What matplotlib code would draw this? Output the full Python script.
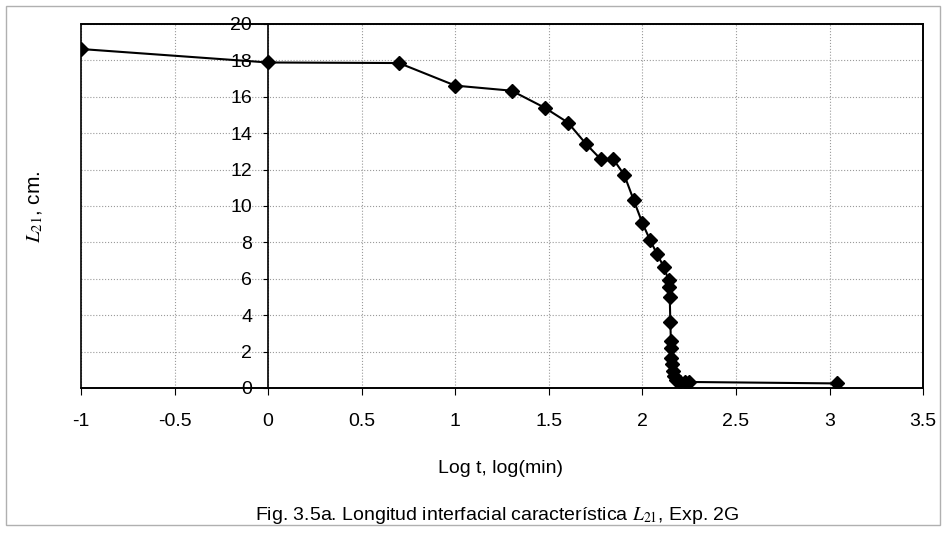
import matplotlib
matplotlib.use('Agg')
import matplotlib.pyplot as plt
from matplotlib.patches import Rectangle

# Log of time (min) and characteristic interfacial length L21 (cm)
log_t = [-1, 0, 0.699, 1.0, 1.301, 1.477, 1.602, 1.699, 1.778, 1.845,
         1.903, 1.954, 2.0, 2.041, 2.079, 2.114, 2.14, 2.143, 2.146, 2.149,
         2.152, 2.155, 2.155, 2.158, 2.162, 2.17, 2.18, 2.2, 2.225, 2.25,
         3.04]
L21 = [18.62, 17.88, 17.85, 16.61, 16.33, 15.4, 14.58, 13.4, 12.56, 12.56,
       11.7, 10.3, 9.05, 8.12, 7.34, 6.65, 5.91, 5.53, 4.98, 3.6,
       2.6, 2.17, 1.67, 1.34, 0.95, 0.68, 0.45, 0.35, 0.33, 0.33,
       0.25]

x_ticks = [-1, -0.5, 0, 0.5, 1, 1.5, 2, 2.5, 3, 3.5]
x_tick_labels = ['-1', '-0.5', '0', '0.5', '1', '1.5', '2', '2.5', '3', '3.5']
y_ticks = [0, 2, 4, 6, 8, 10, 12, 14, 16, 18, 20]

plt.rcParams['font.family'] = 'Liberation Sans'
plt.rcParams['mathtext.fontset'] = 'stix'

fig = plt.figure(figsize=(9.42, 5.37), dpi=100)
ax = fig.add_axes([0.086, 0.2775, 0.894, 0.678])

ax.set_xlim(-1, 3.5)
ax.set_ylim(0, 20)

# grid (dotted gray)
ax.set_xticks(x_ticks)
ax.set_xticklabels(x_tick_labels)
ax.set_yticks(y_ticks)
ax.grid(True, linestyle=':', color='#9a9a9a', linewidth=0.8)
ax.set_axisbelow(True)

ax.plot(log_t, L21, color='black', linewidth=1.5, marker='D', markersize=7.5,
        markerfacecolor='black', markeredgecolor='black', zorder=3)

# y axis drawn at x = 0, box round the plot area
ax.spines['left'].set_position(('data', 0))
for side in ['top', 'right', 'bottom', 'left']:
    ax.spines[side].set_color('black')
    ax.spines[side].set_linewidth(1.2)
ax.add_patch(Rectangle((0, 0), 1, 1, transform=ax.transAxes, fill=False,
                       edgecolor='black', linewidth=1.2, clip_on=False, zorder=4))

ax.tick_params(axis='x', direction='out', length=5, pad=13, labelsize=14, color='black')
ax.tick_params(axis='y', direction='out', length=3.5, pad=8, labelsize=14, color='black')

fig.text(0.531, 0.128, 'Log t, log(min)', ha='center', va='center', fontsize=14)
fig.text(0.037, 0.615, '$\\mathit{L}_{\\mathit{21}}$, cm.', ha='center', va='center',
         rotation=90, fontsize=15)
fig.text(0.528, 0.04, 'Fig. 3.5a. Longitud interfacial característica $\\mathit{L}_{\\mathit{21}}$, Exp. 2G',
         ha='center', va='center', fontsize=14)

# thin frame round the whole figure
fig.patches.append(Rectangle((0.006, 0.022), 0.992, 0.967, transform=fig.transFigure,
                             fill=False, edgecolor='#b0b0b0', linewidth=1.0))

plt.savefig('out.png', dpi=100)
